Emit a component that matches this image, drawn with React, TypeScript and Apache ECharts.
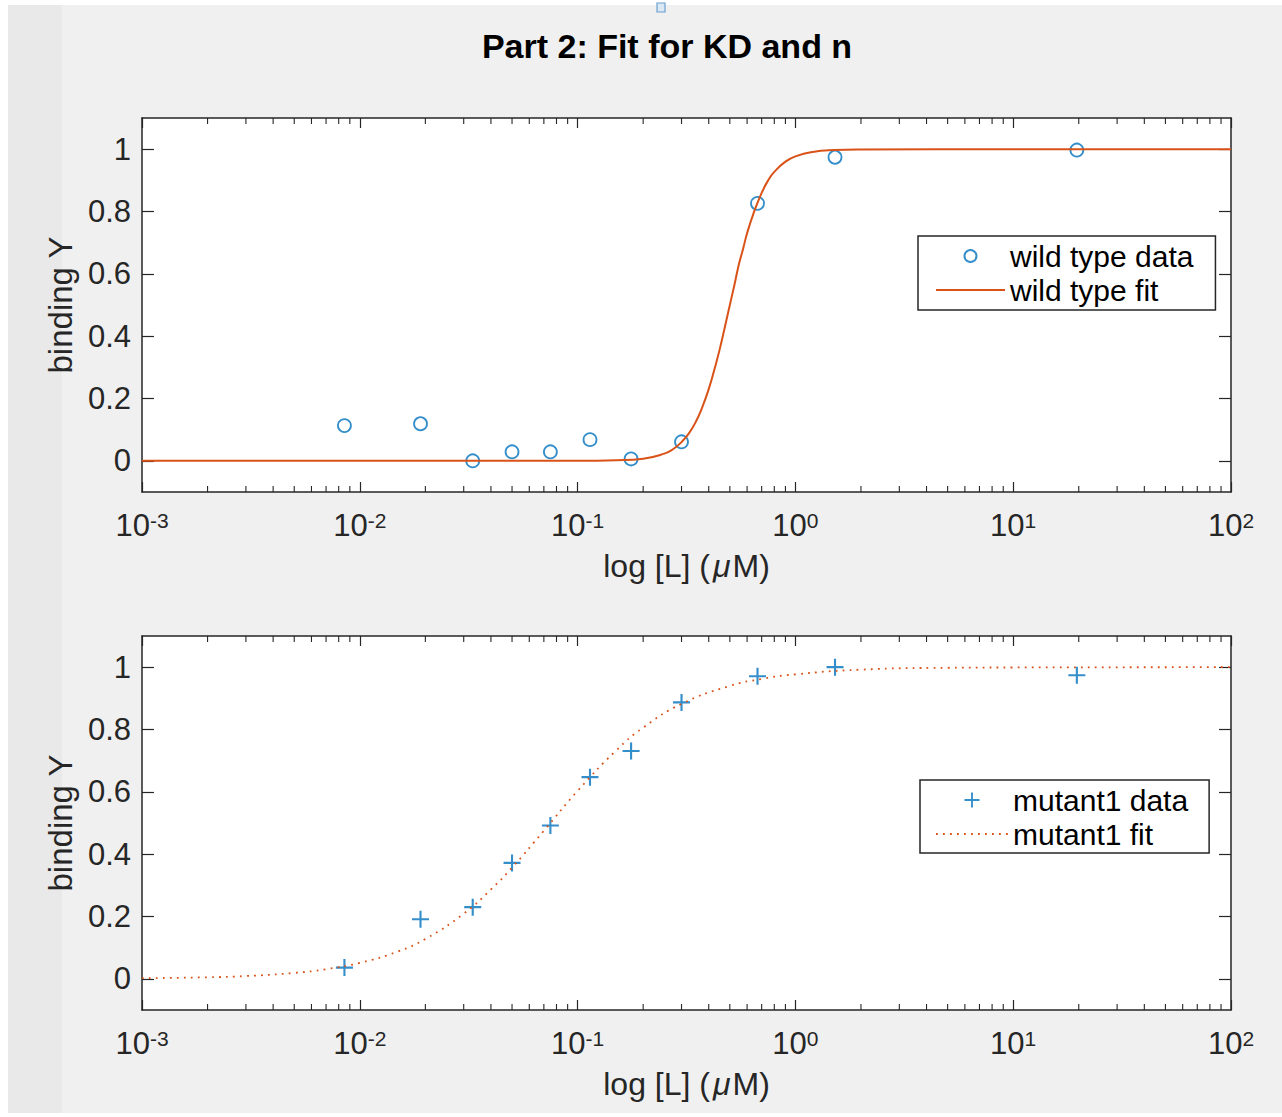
import React, { useEffect, useRef } from "react";
import * as echarts from "echarts";

const chartTitle = "Part 2: Fit for KD and n";
const yAxisTitle = "binding Y";
const legendWild = ["wild type data", "wild type fit"];
const legendMutant = ["mutant1 data", "mutant1 fit"];

// ligand concentrations (µM)
const concentrations = [0.0085, 0.019, 0.033, 0.05, 0.075, 0.114, 0.176, 0.3, 0.67, 1.52, 19.6];
const wildTypeY = [0.113, 0.119, 0.0, 0.029, 0.029, 0.068, 0.006, 0.061, 0.826, 0.974, 0.997];
const mutant1Y = [0.036, 0.191, 0.23, 0.372, 0.492, 0.647, 0.731, 0.887, 0.971, 1.0, 0.974];

// fit curves
const wildFitX = [0.001, 0.01, 0.1, 0.15, 0.2, 0.25, 0.275, 0.3, 0.325, 0.35, 0.375, 0.4, 0.425, 0.45, 0.475, 0.5, 0.525, 0.55, 0.575, 0.6, 0.64, 0.7, 0.75, 0.8, 0.9, 1.0, 1.2, 1.5, 2, 10, 100];
const wildFitY = [0, 0, 0, 0.002, 0.007, 0.023, 0.038, 0.06, 0.089, 0.127, 0.175, 0.23, 0.294, 0.36, 0.431, 0.5, 0.565, 0.63, 0.68, 0.73, 0.791, 0.86, 0.9, 0.927, 0.96, 0.977, 0.991, 0.997, 0.999, 1, 1];
const mutantFitX = [0.001, 0.002, 0.003, 0.005, 0.007, 0.01, 0.015, 0.02, 0.03, 0.04, 0.05, 0.07, 0.1, 0.15, 0.2, 0.3, 0.5, 0.7, 1, 2, 5, 10, 100];
const mutantFitY = [0.002, 0.005, 0.009, 0.019, 0.031, 0.051, 0.088, 0.128, 0.209, 0.287, 0.357, 0.475, 0.603, 0.732, 0.806, 0.882, 0.94, 0.962, 0.977, 0.992, 0.998, 0.999, 1];

const yTickValues = [0, 0.2, 0.4, 0.6, 0.8, 1];
const minorTickValues = [0.001, 0.01, 0.1, 1, 10].flatMap((d) => [2, 3, 4, 5, 6, 7, 8, 9].map((k) => k * d));

const BLUE = "#0072BD";
const ORANGE = "#D95319";
const AXIS = "#262626";
const FONT = "'Liberation Sans', Arial, Helvetica, sans-serif";
const PLUS = "path://M7,0h2v7h7v2h-7v7h-2v-7h-7v-2h7z";

export default function App() {
  const ref = useRef<HTMLDivElement>(null);

  useEffect(() => {
    if (!ref.current) return;
    const chart = echarts.init(ref.current, undefined, { renderer: "svg" });

    const grids = [
      { left: 142, top: 118, width: 1089, height: 374, show: true, backgroundColor: "#fff", borderWidth: 0 },
      { left: 142, top: 636, width: 1089, height: 374, show: true, backgroundColor: "#fff", borderWidth: 0 },
    ];

    const logFormatter = (v: number) => {
      const e = Math.round(Math.log10(v));
      return `{a|10}{b|${e}}`;
    };

    const makeX = (gridIndex: number, bottom: boolean) => ({
      type: "log",
      logBase: 10,
      gridIndex,
      min: 0.001,
      max: 100,
      splitNumber: 5,
      position: bottom ? "bottom" : "top",
      name: bottom ? "log [L] ({m|μ}M)" : "",
      nameLocation: "middle",
      nameGap: 43,
      nameTextStyle: {
        fontFamily: FONT,
        fontSize: 32,
        color: AXIS,
        rich: { m: { fontFamily: FONT, fontSize: 32, fontStyle: "italic", color: AXIS, padding: [0, 2, 0, 3] } },
      },
      axisLine: { show: true, onZero: false, lineStyle: { color: AXIS, width: 1.5 } },
      axisTick: { show: true, inside: true, length: 10, lineStyle: { color: AXIS, width: 1.2 } },
      axisLabel: bottom
        ? {
            show: true,
            margin: 18,
            formatter: logFormatter,
            color: AXIS,
            rich: {
              a: { fontFamily: FONT, fontSize: 31, lineHeight: 31, verticalAlign: "bottom", color: AXIS },
              b: { fontFamily: FONT, fontSize: 21, lineHeight: 21, verticalAlign: "top", padding: [0, 0, 18, 0], color: AXIS },
            },
          }
        : { show: false },
      splitLine: { show: false },
    });

    const makeY = (gridIndex: number, left: boolean) => ({
      type: "value",
      gridIndex,
      min: -0.1,
      max: 1.1,
      position: left ? "left" : "right",
      name: left ? yAxisTitle : "",
      nameLocation: "middle",
      nameGap: 55,
      nameTextStyle: { fontFamily: FONT, fontSize: 33, color: AXIS },
      axisLine: { show: true, onZero: false, lineStyle: { color: AXIS, width: 1.5 } },
      axisTick: { show: true, inside: true, length: 12, customValues: yTickValues, lineStyle: { color: AXIS, width: 1.2 } },
      axisLabel: left
        ? {
            show: true,
            margin: 11,
            customValues: yTickValues,
            fontFamily: FONT,
            fontSize: 31,
            color: AXIS,
            formatter: (v: number) => String(Math.round(v * 10) / 10),
          }
        : { show: false },
      splitLine: { show: false },
    });

    const minorTicks = (xAxisIndex: number, yAxisIndex: number) => ({
      type: "custom",
      name: "minor" + xAxisIndex,
      xAxisIndex,
      yAxisIndex,
      silent: true,
      clip: false,
      z: 5,
      data: minorTickValues.map((v) => [v]),
      renderItem: (_params: any, api: any) => {
        const v = api.value(0);
        const pb = api.coord([v, -0.1]);
        const pt = api.coord([v, 1.1]);
        const style = { stroke: AXIS, lineWidth: 1.1 };
        return {
          type: "group",
          children: [
            { type: "line", shape: { x1: pb[0], y1: pb[1], x2: pb[0], y2: pb[1] - 6 }, style },
            { type: "line", shape: { x1: pt[0], y1: pt[1], x2: pt[0], y2: pt[1] + 6 }, style },
          ],
        };
      },
    });

    const legendBase = {
      orient: "vertical",
      backgroundColor: "#fff",
      borderColor: AXIS,
      borderWidth: 1.5,
      itemGap: 0,
      selectedMode: false,
      textStyle: { fontFamily: FONT, fontSize: 30, lineHeight: 34, color: "#000" },
    };

    const option: any = {
      animation: false,
      backgroundColor: "transparent",
      grid: grids,
      xAxis: [makeX(0, true), makeX(0, false), makeX(1, true), makeX(1, false)],
      yAxis: [makeY(0, true), makeY(0, false), makeY(1, true), makeY(1, false)],
      legend: [
        {
          ...legendBase,
          data: [legendWild[0], { name: legendWild[1], itemStyle: { opacity: 0 } }],
          left: 918,
          top: 236,
          itemWidth: 69,
          itemHeight: 12,
          padding: [3, 22, 3, 17],
        },
        {
          ...legendBase,
          data: [legendMutant[0], { name: legendMutant[1], itemStyle: { opacity: 0 } }],
          left: 920,
          top: 780,
          itemWidth: 72,
          itemHeight: 15,
          padding: [3, 21, 2, 15],
        },
      ],
      graphic: [
        {
          type: "text",
          x: 667,
          y: 46,
          style: {
            text: chartTitle,
            fontFamily: FONT,
            fontSize: 34,
            fontWeight: "bold",
            fill: "#000",
            align: "center",
            verticalAlign: "middle",
          },
        },
        {
          type: "rect",
          shape: { x: 657, y: 3, width: 8, height: 9 },
          style: { fill: "#dbe8f5", stroke: "#6aa0d0", lineWidth: 1.2 },
        },
      ],
      series: [
        {
          name: legendWild[0],
          type: "scatter",
          xAxisIndex: 0,
          yAxisIndex: 0,
          symbol: "circle",
          symbolSize: 13,
          itemStyle: { color: "rgba(255,255,255,0)", borderColor: BLUE, borderWidth: 1.8 },
          data: concentrations.map((x, i) => [x, wildTypeY[i]]),
          z: 3,
        },
        {
          name: legendWild[1],
          type: "line",
          xAxisIndex: 0,
          yAxisIndex: 0,
          symbol: "none",
          smooth: true,
          itemStyle: { color: ORANGE },
          lineStyle: { color: ORANGE, width: 2 },
          data: wildFitX.map((x, i) => [x, wildFitY[i]]),
          z: 4,
        },
        {
          name: legendMutant[0],
          type: "scatter",
          xAxisIndex: 2,
          yAxisIndex: 2,
          symbol: PLUS,
          symbolSize: 17,
          itemStyle: { color: BLUE },
          data: concentrations.map((x, i) => [x, mutant1Y[i]]),
          z: 3,
        },
        {
          name: legendMutant[1],
          type: "line",
          xAxisIndex: 2,
          yAxisIndex: 2,
          symbol: "none",
          smooth: true,
          itemStyle: { color: ORANGE },
          lineStyle: { color: ORANGE, width: 1.8, type: [1.8, 5.2] },
          data: mutantFitX.map((x, i) => [x, mutantFitY[i]]),
          z: 4,
        },
        minorTicks(0, 0),
        minorTicks(2, 2),
      ],
    };

    chart.setOption(option);
    return () => chart.dispose();
  }, []);

  return (
    <div style={{ position: "fixed", left: 0, top: 0, width: 1282, height: 1117, background: "#fff" }}>
      <div style={{ position: "absolute", left: 8, top: 5, right: 0, bottom: 4, background: "#f0f0f0" }} />
      <div style={{ position: "absolute", left: 8, top: 5, width: 54, bottom: 4, background: "#e9e9e9" }} />
      <div ref={ref} style={{ position: "absolute", left: 0, top: 0, width: 1282, height: 1117 }} />
    </div>
  );
}
